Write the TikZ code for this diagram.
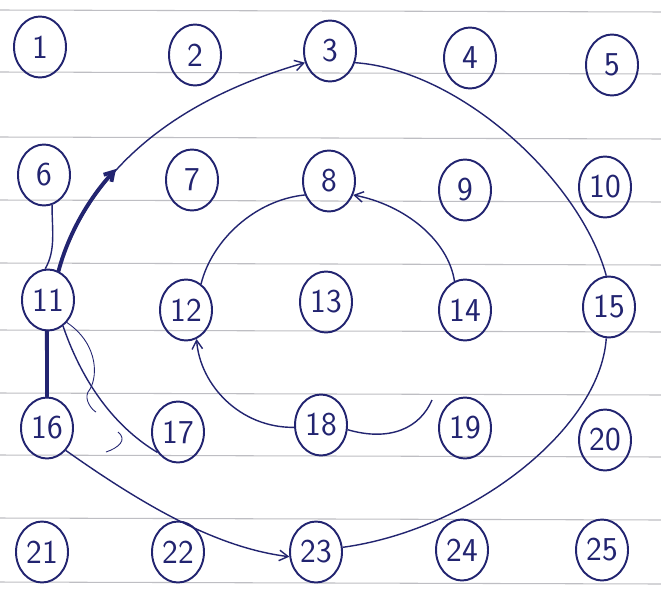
\documentclass[tikz,border=0pt]{standalone}
\usepackage{fontspec}
\usepackage{tikz}
\usetikzlibrary{arrows.meta, shapes.geometric, positioning, calc}
\definecolor{InkBlue}{RGB}{34,36,112}
\definecolor{RuleGray}{RGB}{190,190,195}

\begin{document}
\begin{tikzpicture}[x=0.02cm, y=-0.02cm,
        cell/.style={ellipse,draw=InkBlue,line width=1.1pt,text=InkBlue,
                     minimum width=1.04cm,minimum height=1.22cm,inner sep=0pt,
                     font=\sffamily\fontsize{19}{21}\selectfont},
        pen/.style={draw=InkBlue,line width=0.8pt},
        heavy/.style={draw=InkBlue,line width=2.2pt,line cap=round},
        tip/.style={-{Straight Barb[length=5pt,width=6pt]}}
      ]
        \useasboundingbox[fill=white] (0,0) rectangle (661,598);
        % ruled paper
        \foreach \ry in {10,72,137,200,263,330,393,455,518,582}
          \draw[RuleGray,line width=0.6pt] (0,\ry) -- (661,\ry+2);
        \node[cell] (n1) at (40,47) {1};
        \node[cell] (n2) at (195,55) {2};
        \node[cell] (n3) at (330,51) {3};
        \node[cell] (n4) at (470,58) {4};
        \node[cell] (n5) at (612,65) {5};
        \node[cell] (n6) at (44,175) {6};
        \node[cell] (n7) at (192,180) {7};
        \node[cell] (n8) at (329,181) {8};
        \node[cell] (n9) at (465,190) {9};
        \node[cell] (n10) at (605,187) {10};
        \node[cell] (n11) at (48,300) {11};
        \node[cell] (n12) at (186,310) {12};
        \node[cell] (n13) at (326,302) {13};
        \node[cell] (n14) at (465,310) {14};
        \node[cell] (n15) at (609,307) {15};
        \node[cell] (n16) at (47,428) {16};
        \node[cell] (n17) at (178,432) {17};
        \node[cell] (n18) at (321,425) {18};
        \node[cell] (n19) at (465,428) {19};
        \node[cell] (n20) at (605,440) {20};
        \node[cell] (n21) at (42,552) {21};
        \node[cell] (n22) at (178,552) {22};
        \node[cell] (n23) at (316,552) {23};
        \node[cell] (n24) at (462,550) {24};
        \node[cell] (n25) at (602,550) {25};
        \coordinate (bend) at (116,169);
        \coordinate (loose) at (432,400);
        % outer ring
        \draw[pen,tip] (n11.70) .. controls (80,200) and (140,110) .. (n3.205);
        \draw[heavy,tip] (n11.70) .. controls (67,239) and (85,203) .. (bend);
        \draw[pen] (n6.285) .. controls (52,230) and (56,250) .. (n11.95);
        \draw[pen] (n3.335) .. controls (460,70) and (580,180) .. (n15.95);
        \draw[pen] (n15.265) .. controls (600,430) and (470,530) .. (n23.10);
        \draw[pen,tip] (n16.310) .. controls (150,510) and (220,548) .. (n23.190);
        \draw[heavy] (n11.268) -- (n16.90);
        \draw[pen] (n11.300) .. controls (85,390) and (120,430) .. (n17.225);
        \draw[draw=InkBlue,line width=0.5pt] (n11.310) .. controls (100,345) and (98,380) .. (88,392)
          .. controls (84,400) and (92,410) .. (96,412);
        \draw[draw=InkBlue,line width=0.5pt] (106,452) .. controls (118,448) and (128,440) .. (118,432);
        % inner ring
        \draw[pen,tip] (n18.185) .. controls (240,428) and (200,385) .. (n12.290);
        \draw[pen] (n12.60) .. controls (212,240) and (255,200) .. (n8.210);
        \draw[pen,tip] (n14.110) .. controls (448,240) and (405,205) .. (n8.330);
        \draw[pen] (n18.350) .. controls (390,442) and (420,428) .. (loose);
      \end{tikzpicture}
\end{document}
